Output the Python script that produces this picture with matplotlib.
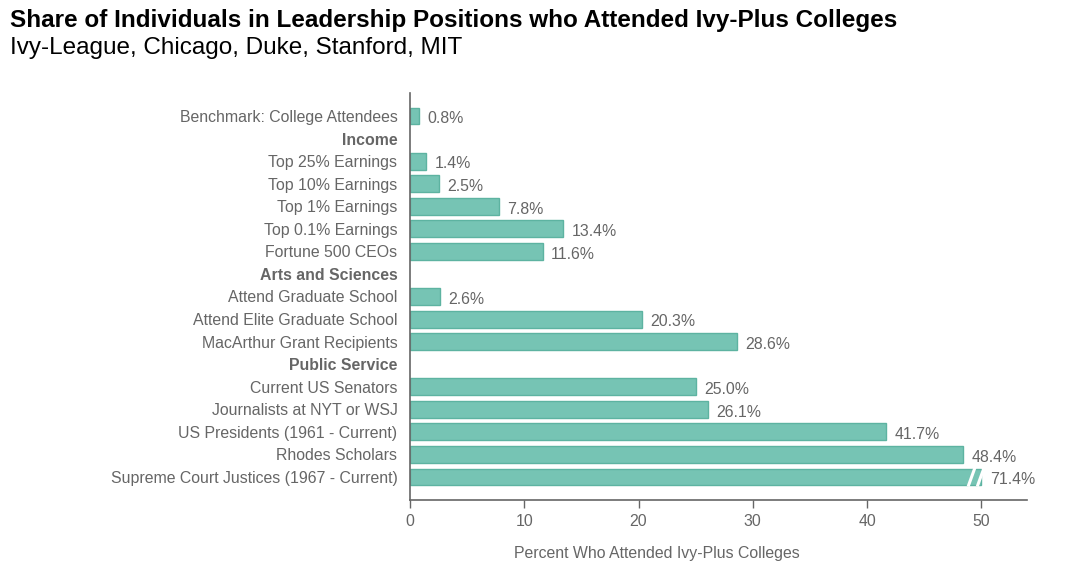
import matplotlib.pyplot as plt

# Data (None marks a group header row)
LABELS = [
    "Benchmark: College Attendees",
    "Income",
    "Top 25% Earnings",
    "Top 10% Earnings",
    "Top 1% Earnings",
    "Top 0.1% Earnings",
    "Fortune 500 CEOs",
    "Arts and Sciences",
    "Attend Graduate School",
    "Attend Elite Graduate School",
    "MacArthur Grant Recipients",
    "Public Service",
    "Current US Senators",
    "Journalists at NYT or WSJ",
    "US Presidents (1961 - Current)",
    "Rhodes Scholars",
    "Supreme Court Justices (1967 - Current)",
]
VALUES = [0.8, None, 1.4, 2.5, 7.8, 13.4, 11.6, None, 2.6, 20.3, 28.6, None,
          25.0, 26.1, 41.7, 48.4, 71.4]
X_TICKS = [0, 10, 20, 30, 40, 50]
X_MAX = 54
BAR_CAP = 50  # bars longer than this get a broken end

FILL = "#76c4b4"
EDGE = "#5db3a1"
GRAY = "#666666"
FS = 11.4

plt.rcParams["font.family"] = ["Liberation Sans", "DejaVu Sans"]

fig = plt.figure(figsize=(10.8, 5.75), dpi=100)
ax = fig.add_axes([410 / 1080, 1 - 500 / 575, 617 / 1080, 407 / 575])

for i, (label, val) in enumerate(zip(LABELS, VALUES)):
    if val is None:
        continue
    shown = min(val, BAR_CAP)
    ax.barh(i, shown, height=0.75, color=FILL, edgecolor=EDGE, linewidth=1)
    ax.annotate(f"{val:.1f}%", (shown, i), xytext=(6, -2), textcoords="offset points",
                ha="left", va="center", fontsize=FS, color=GRAY)
    if val > BAR_CAP:
        for c in (49.15, 49.95):
            ax.plot([c - 0.3, c + 0.3], [i + 0.42, i - 0.42], color="white",
                    linewidth=2.2, solid_capstyle="butt")

ax.set_xlim(0, X_MAX)
ax.set_ylim(len(LABELS) - 1 + 1.02, -1.02)

ax.set_yticks(range(len(LABELS)))
ax.set_yticklabels(LABELS)
for tick, val in zip(ax.get_yticklabels(), VALUES):
    tick.set_color(GRAY)
    tick.set_fontsize(FS)
    if val is None:
        tick.set_fontweight("bold")
ax.tick_params(axis="y", length=0, pad=9)

ax.set_xticks(X_TICKS)
ax.tick_params(axis="x", length=6, width=1, color=GRAY, labelcolor=GRAY, labelsize=FS, pad=4)
ax.set_xlabel("Percent Who Attended Ivy-Plus Colleges", fontsize=FS, color=GRAY)
ax.xaxis.set_label_coords(0.40, -0.112)

for side in ("top", "right"):
    ax.spines[side].set_visible(False)
for side in ("left", "bottom"):
    ax.spines[side].set_color(GRAY)
    ax.spines[side].set_linewidth(1.2)

fig.text(10 / 1080, 1 - 20 / 575, "Share of Individuals in Leadership Positions who Attended Ivy-Plus Colleges",
         fontsize=17.5, fontweight="bold", color="black", va="center", ha="left")
fig.text(10 / 1080, 1 - 48 / 575, "Ivy-League, Chicago, Duke, Stanford, MIT",
         fontsize=17.5, color="black", va="center", ha="left")

fig.savefig("out.png", dpi=100)
plt.close()
